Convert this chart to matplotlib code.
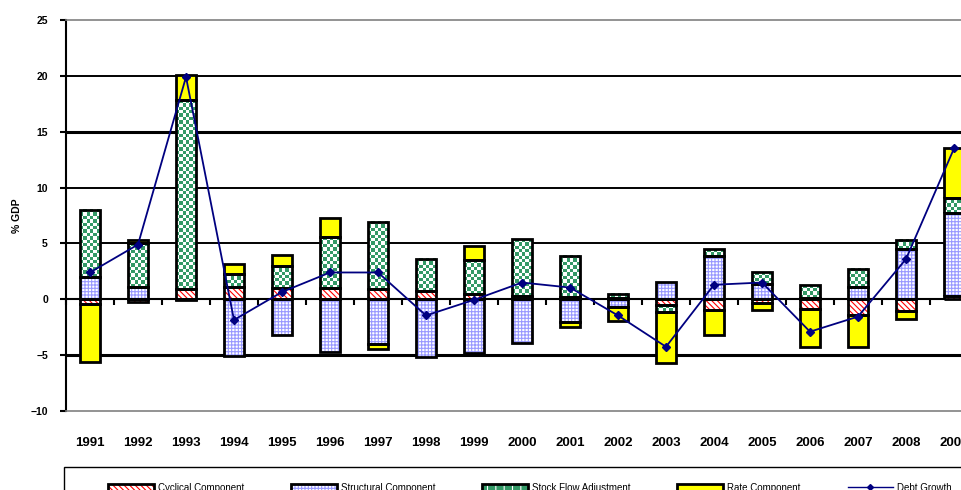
import numpy as np
import matplotlib
matplotlib.use("Agg")
import matplotlib.pyplot as plt
from matplotlib.colors import ListedColormap
from matplotlib.patches import Patch, Rectangle
from matplotlib.lines import Line2D

# Zerlegung des Schuldenwachstums (% GDP), 1991-2009
years = [str(y) for y in range(1991, 2010)]
cyclical = [-0.4, -0.25, 0.9, 1.1, 1.0, 1.0, 0.9, 0.75, 0.5, 0.3,
            0.2, 0.1, -0.5, -1.0, -0.35, -0.85, -1.4, -1.05, 0.3]
structural = [2.0, 1.1, -0.1, -5.1, -3.2, -4.7, -4.0, -5.2, -4.8, -3.9,
              -2.0, -0.65, 1.55, 3.9, 1.4, 0.15, 1.1, 4.5, 7.4]
stock_flow = [6.0, 3.9, 16.9, 1.2, 2.0, 4.55, 6.05, 2.9, 3.0, 5.1,
              3.7, 0.4, -0.6, 0.6, 1.05, 1.1, 1.65, 0.85, 1.35]
rate = [-5.2, 0.3, 2.3, 0.85, 1.0, 1.75, -0.45, 0.0, 1.3, 0.0,
        -0.45, -1.3, -4.6, -2.2, -0.65, -3.45, -2.9, -0.7, 4.5]
debt_growth = [2.4, 4.9, 19.9, -1.85, 0.65, 2.4, 2.4, -1.45, -0.05, 1.5,
               1.05, -1.45, -4.25, 1.3, 1.5, -2.9, -1.55, 3.6, 13.5]

plt.rcParams['font.family'] = ['Liberation Sans', 'DejaVu Sans']
plt.rcParams['hatch.linewidth'] = 0.8

GREEN = '#339966'
NAVY = '#000080'
CYC_HATCH = '\\\\\\\\\\\\'
STR_HATCH = '+++++'
checker_cmap = ListedColormap(['white', GREEN])

fig = plt.figure(figsize=(9.61, 4.90), dpi=100)
ax = fig.add_axes([66 / 961, 79 / 490, 912 / 961, 391 / 490])

x = np.arange(len(years))
width = 0.40
pos_base = np.zeros(len(years))
neg_base = np.zeros(len(years))

series = [
    (cyclical, 'white', 'red', CYC_HATCH),
    (structural, 'white', '#9999ff', STR_HATCH),
    (stock_flow, 'white', None, 'checker'),
    (rate, '#ffff00', None, None),
]

for vals, face, hcolor, hatch in series:
    vals = np.asarray(vals, dtype=float)
    bottom = np.where(vals >= 0, pos_base, neg_base)
    pos_base = pos_base + np.where(vals > 0, vals, 0)
    neg_base = neg_base + np.where(vals < 0, vals, 0)
    m = vals != 0

    if hatch == 'checker':
        # Schachbrettmuster für die Stock-Flow-Komponente
        for xi, b, h in zip(x[m], bottom[m], vals[m]):
            y0, y1 = sorted([b, b + h])
            nrows = max(1, int(round((y1 - y0) / 0.3)))
            cells = np.add.outer(np.arange(nrows), np.arange(6)) % 2
            ax.imshow(cells, cmap=checker_cmap, vmin=0, vmax=1,
                      extent=(xi - width / 2, xi + width / 2, y0, y1),
                      aspect='auto', interpolation='nearest', zorder=2)
    elif hatch:
        ax.bar(x[m], vals[m], width, bottom=bottom[m], facecolor=face,
               edgecolor=hcolor, hatch=hatch, linewidth=0, zorder=2)
    else:
        ax.bar(x[m], vals[m], width, bottom=bottom[m], facecolor=face,
               linewidth=0, zorder=2)
    # schwarze Umrandung jedes Segments
    ax.bar(x[m], vals[m], width, bottom=bottom[m], fill=False,
           edgecolor='black', linewidth=2, zorder=3)

ax.plot(x, debt_growth, color=NAVY, linewidth=1.3, marker='D',
        markersize=4.5, zorder=4)

# Gitterlinien
for lvl in [20, 15, 10, 5, -5]:
    ax.axhline(lvl, color='black', linewidth=2.2 if lvl in (15, -5) else 1.4, zorder=1)

ax.set_xlim(-0.5, len(years) - 0.5)
ax.set_ylim(-10, 25)

ax.spines['right'].set_visible(False)
for side in ['top', 'bottom']:
    ax.spines[side].set_color('#808080')
    ax.spines[side].set_linewidth(1.2)
ax.spines['left'].set_linewidth(1.5)

ax.set_yticks(range(-10, 26, 5))
ax.tick_params(axis='y', direction='out', length=4, width=1.5, pad=9, labelsize=7.5)
ax.set_xticks(x, years)
ax.tick_params(axis='x', length=0, pad=19, labelsize=9.5)
for lab in ax.get_xticklabels() + ax.get_yticklabels():
    lab.set_fontweight('bold')
ax.set_ylabel('% GDP', fontsize=7.5, fontweight='bold', labelpad=6)

# Kategorienachse bei 0 mit Teilstrichen zwischen den Jahren
secax = ax.secondary_xaxis(0, transform=ax.transData)
secax.set_xticks(np.arange(len(years) + 1) - 0.5)
secax.set_xticklabels([])
secax.tick_params(direction='out', length=4, width=1.5)
secax.spines['bottom'].set_linewidth(1.5)

# Legende
outline = dict(fill=False, edgecolor='black', linewidth=2)
handles = [
    (Patch(facecolor='white', edgecolor='red', hatch=CYC_HATCH, linewidth=0), Patch(**outline)),
    (Patch(facecolor='white', edgecolor='#9999ff', hatch=STR_HATCH, linewidth=0), Patch(**outline)),
    (Patch(facecolor=GREEN, edgecolor='white', hatch='||', linewidth=0), Patch(**outline)),
    Patch(facecolor='#ffff00', edgecolor='black', linewidth=2),
    Line2D([], [], color=NAVY, linewidth=1, marker='D', markersize=3),
]
labels = ['Cyclical Component', 'Structural Component', 'Stock Flow Adjustment',
          'Rate Component', 'Debt Growth']
fig.legend(handles, labels, loc='center left', bbox_to_anchor=(108 / 961, 1 - 487.5 / 490),
           ncol=5, frameon=False, fontsize=7, handlelength=4.7, handleheight=0.7,
           handletextpad=0.4, columnspacing=4.85, borderpad=0, borderaxespad=0)
fig.add_artist(Rectangle((64 / 961, -0.05), 1.0, (490 - 467) / 490 + 0.05,
                         transform=fig.transFigure, fill=False,
                         edgecolor='black', linewidth=1))

fig.savefig('out.png', dpi=100)
